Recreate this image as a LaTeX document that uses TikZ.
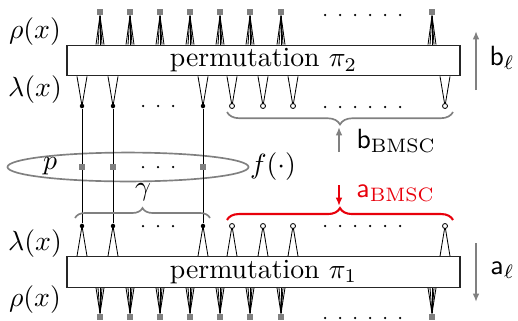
\documentclass[tikz,border=0pt]{standalone}
\usepackage{amsmath}
\usepackage{tikz}
\usetikzlibrary{positioning, calc, arrows.meta, decorations.pathreplacing, shapes.geometric}
\definecolor{chkgray}{gray}{0.5}
\definecolor{bmscred}{HTML}{E8000B}

\begin{document}
\begin{tikzpicture}[x=0.36pt, y=-0.36pt,
    perm/.style={rectangle, draw=black!85, fill=white, minimum width=141.5pt, minimum height=11pt, inner sep=0pt, line width=0.4pt},
    chk/.style={rectangle, fill=chkgray, inner sep=0pt, minimum size=2.2pt},
    var/.style={circle, fill=black, inner sep=0pt, minimum size=1.6pt},
    opn/.style={circle, draw=black, fill=white, line width=0.3pt, inner sep=0pt, minimum size=1.8pt},
    dot/.style={circle, fill=black, inner sep=0pt, minimum size=0.9pt},
    edg/.style={line width=0.3pt},
    brc/.style={decorate, decoration={brace, amplitude=#1}, semithick},
    arr/.style={-{Latex[length=3pt, width=2.4pt]}, semithick, gray},
    lbl/.style={inner sep=0pt},
  ]
    \useasboundingbox (0,0) rectangle (518,320);

    \node[perm] (pi2) at (263.5,60.5) {permutation $\pi_2$};
    \node[perm] (pi1) at (263.5,272) {permutation $\pi_1$};

    \node[lbl] (rho2) at (35,31.5) {$\rho(x)$};
    \node[lbl] (lam2) at (35,90) {$\lambda(x)$};
    \node[lbl] (lam1) at (35,243.5) {$\lambda(x)$};
    \node[lbl] (rho1) at (35,300) {$\rho(x)$};

    % check nodes
    \foreach \x [count=\i] in {100,130,160,190,220,250,281,432} {
      \node[chk] (ct\i) at (\x,12) {};
      \node[chk] (cb\i) at (\x,317) {};
      \foreach \d in {-4,-2,0,2,4} {
        \draw[edg] (ct\i.south) -- ($(pi2.north -| ct\i)+(\d,0)$);
        \draw[edg] (cb\i.north) -- ($(pi1.south -| cb\i)+(\d,0)$);
      }
    }
    \foreach \x [count=\i] in {325,340,355,370,385,400} {
      \node[dot] (dct\i) at (\x,15) {};
      \node[dot] (dcb\i) at (\x,318) {};
    }

    % variable nodes with outer edges
    \node[ellipse, draw=gray, semithick, minimum width=86.8pt, minimum height=10.4pt, inner sep=0pt] (grp) at (128,167) {};
    \foreach \x [count=\i] in {82,113,203} {
      \node[var] (vt\i) at (\x,106) {};
      \node[var] (vb\i) at (\x,226) {};
      \draw[edg] (vt\i) -- (vb\i);
      \draw[edg] ($(pi2.south -| vt\i)+(-5,0)$) -- (vt\i.center) -- ($(pi2.south -| vt\i)+(5,0)$);
      \draw[edg] ($(pi1.north -| vb\i)+(-5,0)$) -- (vb\i.center) -- ($(pi1.north -| vb\i)+(5,0)$);
      \node[chk] (pe\i) at (\x,167) {};
    }
    \foreach \x [count=\i] in {232,263,293,445} {
      \coordinate (ot\i) at (\x,106);
      \coordinate (ob\i) at (\x,226);
      \draw[edg] ($(pi2.south -| ot\i)+(-5,0)$) -- (ot\i) -- ($(pi2.south -| ot\i)+(5,0)$);
      \draw[edg] ($(pi1.north -| ob\i)+(-5,0)$) -- (ob\i) -- ($(pi1.north -| ob\i)+(5,0)$);
      \node[opn] (wt\i) at (ot\i) {};
      \node[opn] (wb\i) at (ob\i) {};
    }
    \foreach \x [count=\i] in {143,158,173} {
      \node[dot] (dvt\i) at (\x,106) {};
      \node[dot] (dvb\i) at (\x,226) {};
      \node[dot] (dpe\i) at (\x,167) {};
    }
    \foreach \x [count=\i] in {325,340,355,370,385,400} {
      \node[dot] (dwt\i) at (\x,107) {};
      \node[dot] (dwb\i) at (\x,226) {};
    }

    \node[lbl] (p) at (50,166) {$p$};
    \node[lbl] (f) at (273,167) {$f(\cdot)$};

    % braces
    \coordinate (gl) at (75,218);
    \coordinate (gr) at (210,218);
    \draw[brc=3.6pt, gray] (gl) -- (gr);
    \node[lbl] (gam) at (143,192) {$\gamma$};

    \coordinate (bl) at (227,112);
    \coordinate (br) at (453,112);
    \draw[brc=4.5pt, gray] (bl) -- (br) [decoration={mirror}];
    \coordinate (btip) at (339,127);
    \coordinate (bfoot) at (339,152);
    \draw[arr] (bfoot) -- (btip);
    \node[lbl, anchor=west] (bbmsc) at (356,141) {$\mathsf{b}_{\mathrm{BMSC}}$};

    \coordinate (al) at (227,220);
    \coordinate (ar) at (453,220);
    \draw[brc=4.3pt, bmscred, line width=0.75pt] (al) -- (ar);
    \coordinate (atop) at (339,185);
    \coordinate (atip) at (339,206);
    \draw[-{Latex[length=3pt, width=2.4pt]}, bmscred, semithick] (atop) -- (atip);
    \node[lbl, anchor=west, text=bmscred] (absmc) at (356,193) {$\mathsf{a}_{\mathrm{BMSC}}$};

    % direction arrows
    \coordinate (bu0) at (476,90);
    \coordinate (bu1) at (476,31);
    \draw[arr] (bu0) -- (bu1);
    \node[lbl, anchor=west] (bl2) at (489,58) {$\mathsf{b}_\ell$};
    \coordinate (ad0) at (476,243);
    \coordinate (ad1) at (476,302);
    \draw[arr] (ad0) -- (ad1);
    \node[lbl, anchor=west] (al1) at (490,270) {$\mathsf{a}_\ell$};
  \end{tikzpicture}
\end{document}
